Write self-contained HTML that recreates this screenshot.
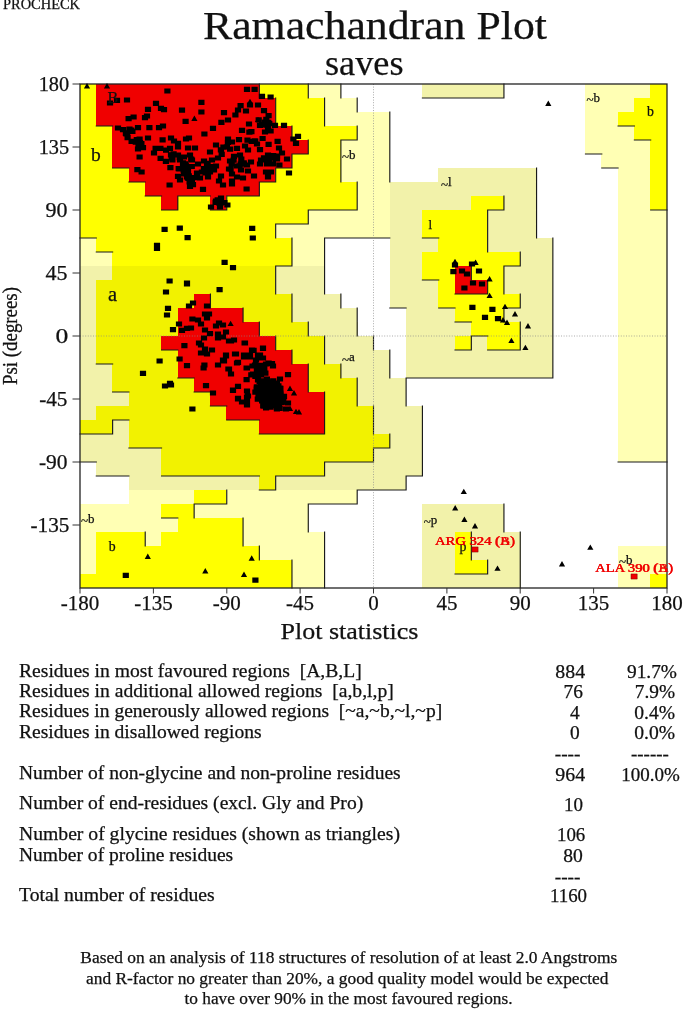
<!DOCTYPE html>
<html><head><meta charset="utf-8"><title>Ramachandran Plot</title><style>html,body{margin:0;padding:0;background:#fff}svg{display:block}</style></head><body>
<svg width="685" height="1010" viewBox="0 0 685 1010" font-family="Liberation Serif, serif" fill="#111">
<rect width="685" height="1010" fill="#fff"/>
<g shape-rendering="crispEdges"><rect x="79.70" y="83.70" width="16.91" height="14.60" fill="#ffff00"/>
<rect x="96.01" y="83.70" width="163.66" height="14.60" fill="#f00000"/>
<rect x="259.06" y="83.70" width="49.52" height="14.60" fill="#ffff00"/>
<rect x="307.98" y="83.70" width="33.21" height="14.60" fill="#ffffb4"/>
<rect x="422.12" y="83.70" width="82.13" height="14.60" fill="#f2f2aa"/>
<rect x="585.17" y="83.70" width="65.82" height="14.60" fill="#ffffb4"/>
<rect x="650.39" y="83.70" width="16.91" height="14.60" fill="#ffff00"/>
<rect x="79.70" y="97.70" width="16.91" height="14.60" fill="#ffff00"/>
<rect x="96.01" y="97.70" width="179.96" height="14.60" fill="#f00000"/>
<rect x="275.37" y="97.70" width="49.52" height="14.60" fill="#ffff00"/>
<rect x="324.28" y="97.70" width="33.21" height="14.60" fill="#ffffb4"/>
<rect x="585.17" y="97.70" width="49.52" height="14.60" fill="#ffffb4"/>
<rect x="634.09" y="97.70" width="33.21" height="14.60" fill="#ffff00"/>
<rect x="79.70" y="111.70" width="16.91" height="14.60" fill="#ffff00"/>
<rect x="96.01" y="111.70" width="179.96" height="14.60" fill="#f00000"/>
<rect x="275.37" y="111.70" width="49.52" height="14.60" fill="#ffff00"/>
<rect x="324.28" y="111.70" width="65.82" height="14.60" fill="#ffffb4"/>
<rect x="585.17" y="111.70" width="33.21" height="14.60" fill="#ffffb4"/>
<rect x="617.78" y="111.70" width="49.52" height="14.60" fill="#ffff00"/>
<rect x="79.70" y="125.70" width="33.21" height="14.60" fill="#ffff00"/>
<rect x="112.31" y="125.70" width="179.96" height="14.60" fill="#f00000"/>
<rect x="291.67" y="125.70" width="65.82" height="14.60" fill="#ffff00"/>
<rect x="356.89" y="125.70" width="33.21" height="14.60" fill="#ffffb4"/>
<rect x="585.17" y="125.70" width="49.52" height="14.60" fill="#ffffb4"/>
<rect x="634.09" y="125.70" width="33.21" height="14.60" fill="#ffff00"/>
<rect x="79.70" y="139.70" width="33.21" height="14.60" fill="#ffff00"/>
<rect x="112.31" y="139.70" width="196.27" height="14.60" fill="#f00000"/>
<rect x="307.98" y="139.70" width="33.21" height="14.60" fill="#ffff00"/>
<rect x="340.59" y="139.70" width="49.52" height="14.60" fill="#ffffb4"/>
<rect x="585.17" y="139.70" width="65.82" height="14.60" fill="#ffffb4"/>
<rect x="650.39" y="139.70" width="16.91" height="14.60" fill="#ffff00"/>
<rect x="79.70" y="153.70" width="33.21" height="14.60" fill="#ffff00"/>
<rect x="112.31" y="153.70" width="179.96" height="14.60" fill="#f00000"/>
<rect x="291.67" y="153.70" width="49.52" height="14.60" fill="#ffff00"/>
<rect x="340.59" y="153.70" width="49.52" height="14.60" fill="#ffffb4"/>
<rect x="601.48" y="153.70" width="49.52" height="14.60" fill="#ffffb4"/>
<rect x="650.39" y="153.70" width="16.91" height="14.60" fill="#ffff00"/>
<rect x="79.70" y="167.70" width="49.52" height="14.60" fill="#ffff00"/>
<rect x="128.62" y="167.70" width="147.35" height="14.60" fill="#f00000"/>
<rect x="275.37" y="167.70" width="65.82" height="14.60" fill="#ffff00"/>
<rect x="340.59" y="167.70" width="49.52" height="14.60" fill="#ffffb4"/>
<rect x="438.42" y="167.70" width="98.43" height="14.60" fill="#f2f2aa"/>
<rect x="617.78" y="167.70" width="33.21" height="14.60" fill="#ffffb4"/>
<rect x="650.39" y="167.70" width="16.91" height="14.60" fill="#ffff00"/>
<rect x="79.70" y="181.70" width="65.82" height="14.60" fill="#ffff00"/>
<rect x="144.92" y="181.70" width="114.74" height="14.60" fill="#f00000"/>
<rect x="259.06" y="181.70" width="98.43" height="14.60" fill="#ffff00"/>
<rect x="356.89" y="181.70" width="33.21" height="14.60" fill="#ffffb4"/>
<rect x="389.51" y="181.70" width="147.35" height="14.60" fill="#f2f2aa"/>
<rect x="617.78" y="181.70" width="33.21" height="14.60" fill="#ffffb4"/>
<rect x="650.39" y="181.70" width="16.91" height="14.60" fill="#ffff00"/>
<rect x="79.70" y="195.70" width="82.13" height="14.60" fill="#ffff00"/>
<rect x="161.23" y="195.70" width="16.91" height="14.60" fill="#f00000"/>
<rect x="177.53" y="195.70" width="33.21" height="14.60" fill="#ffff00"/>
<rect x="210.14" y="195.70" width="16.91" height="14.60" fill="#f00000"/>
<rect x="226.45" y="195.70" width="131.04" height="14.60" fill="#ffff00"/>
<rect x="356.89" y="195.70" width="33.21" height="14.60" fill="#ffffb4"/>
<rect x="389.51" y="195.70" width="82.13" height="14.60" fill="#f2f2aa"/>
<rect x="471.03" y="195.70" width="33.21" height="14.60" fill="#ffff00"/>
<rect x="503.64" y="195.70" width="33.21" height="14.60" fill="#f2f2aa"/>
<rect x="617.78" y="195.70" width="33.21" height="14.60" fill="#ffffb4"/>
<rect x="650.39" y="195.70" width="16.91" height="14.60" fill="#ffff00"/>
<rect x="79.70" y="209.70" width="228.88" height="14.60" fill="#ffff00"/>
<rect x="307.98" y="209.70" width="82.13" height="14.60" fill="#ffffb4"/>
<rect x="389.51" y="209.70" width="33.21" height="14.60" fill="#f2f2aa"/>
<rect x="422.12" y="209.70" width="65.82" height="14.60" fill="#ffff00"/>
<rect x="487.34" y="209.70" width="49.52" height="14.60" fill="#f2f2aa"/>
<rect x="617.78" y="209.70" width="49.52" height="14.60" fill="#ffffb4"/>
<rect x="79.70" y="223.70" width="196.27" height="14.60" fill="#ffff00"/>
<rect x="275.37" y="223.70" width="114.74" height="14.60" fill="#ffffb4"/>
<rect x="389.51" y="223.70" width="33.21" height="14.60" fill="#f2f2aa"/>
<rect x="422.12" y="223.70" width="65.82" height="14.60" fill="#ffff00"/>
<rect x="487.34" y="223.70" width="49.52" height="14.60" fill="#f2f2aa"/>
<rect x="617.78" y="223.70" width="49.52" height="14.60" fill="#ffffb4"/>
<rect x="79.70" y="237.70" width="16.91" height="14.60" fill="#ffffb4"/>
<rect x="96.01" y="237.70" width="196.27" height="14.60" fill="#ffff00"/>
<rect x="291.67" y="237.70" width="33.21" height="14.60" fill="#ffffb4"/>
<rect x="389.51" y="237.70" width="49.52" height="14.60" fill="#f2f2aa"/>
<rect x="438.42" y="237.70" width="49.52" height="14.60" fill="#ffff00"/>
<rect x="487.34" y="237.70" width="65.82" height="14.60" fill="#f2f2aa"/>
<rect x="617.78" y="237.70" width="49.52" height="14.60" fill="#ffffb4"/>
<rect x="79.70" y="251.70" width="33.21" height="14.60" fill="#ffffb4"/>
<rect x="112.31" y="251.70" width="179.96" height="14.60" fill="#ffff00"/>
<rect x="291.67" y="251.70" width="33.21" height="14.60" fill="#ffffb4"/>
<rect x="389.51" y="251.70" width="33.21" height="14.60" fill="#f2f2aa"/>
<rect x="422.12" y="251.70" width="98.43" height="14.60" fill="#ffff00"/>
<rect x="519.95" y="251.70" width="33.21" height="14.60" fill="#f2f2aa"/>
<rect x="617.78" y="251.70" width="49.52" height="14.60" fill="#ffffb4"/>
<rect x="79.70" y="265.70" width="33.21" height="14.60" fill="#f2f2aa"/>
<rect x="112.31" y="265.70" width="163.66" height="14.60" fill="#f2f200"/>
<rect x="275.37" y="265.70" width="49.52" height="14.60" fill="#f2f2aa"/>
<rect x="389.51" y="265.70" width="33.21" height="14.60" fill="#f2f2aa"/>
<rect x="422.12" y="265.70" width="33.21" height="14.60" fill="#ffff00"/>
<rect x="454.73" y="265.70" width="16.91" height="14.60" fill="#f00000"/>
<rect x="471.03" y="265.70" width="33.21" height="14.60" fill="#ffff00"/>
<rect x="503.64" y="265.70" width="49.52" height="14.60" fill="#f2f2aa"/>
<rect x="617.78" y="265.70" width="49.52" height="14.60" fill="#ffffb4"/>
<rect x="79.70" y="279.70" width="16.91" height="14.60" fill="#f2f2aa"/>
<rect x="96.01" y="279.70" width="179.96" height="14.60" fill="#f2f200"/>
<rect x="275.37" y="279.70" width="49.52" height="14.60" fill="#f2f2aa"/>
<rect x="389.51" y="279.70" width="49.52" height="14.60" fill="#f2f2aa"/>
<rect x="438.42" y="279.70" width="16.91" height="14.60" fill="#ffff00"/>
<rect x="454.73" y="279.70" width="33.21" height="14.60" fill="#f00000"/>
<rect x="487.34" y="279.70" width="16.91" height="14.60" fill="#ffff00"/>
<rect x="503.64" y="279.70" width="49.52" height="14.60" fill="#f2f2aa"/>
<rect x="617.78" y="279.70" width="49.52" height="14.60" fill="#ffffb4"/>
<rect x="79.70" y="293.70" width="16.91" height="14.60" fill="#f2f2aa"/>
<rect x="96.01" y="293.70" width="98.43" height="14.60" fill="#f2f200"/>
<rect x="193.84" y="293.70" width="16.91" height="14.60" fill="#f00000"/>
<rect x="210.14" y="293.70" width="82.13" height="14.60" fill="#f2f200"/>
<rect x="291.67" y="293.70" width="49.52" height="14.60" fill="#f2f2aa"/>
<rect x="389.51" y="293.70" width="49.52" height="14.60" fill="#f2f2aa"/>
<rect x="438.42" y="293.70" width="82.13" height="14.60" fill="#ffff00"/>
<rect x="519.95" y="293.70" width="33.21" height="14.60" fill="#f2f2aa"/>
<rect x="617.78" y="293.70" width="49.52" height="14.60" fill="#ffffb4"/>
<rect x="79.70" y="307.70" width="16.91" height="14.60" fill="#f2f2aa"/>
<rect x="96.01" y="307.70" width="82.13" height="14.60" fill="#f2f200"/>
<rect x="177.53" y="307.70" width="65.82" height="14.60" fill="#f00000"/>
<rect x="242.76" y="307.70" width="49.52" height="14.60" fill="#f2f200"/>
<rect x="291.67" y="307.70" width="65.82" height="14.60" fill="#f2f2aa"/>
<rect x="405.81" y="307.70" width="49.52" height="14.60" fill="#f2f2aa"/>
<rect x="454.73" y="307.70" width="49.52" height="14.60" fill="#ffff00"/>
<rect x="503.64" y="307.70" width="49.52" height="14.60" fill="#f2f2aa"/>
<rect x="617.78" y="307.70" width="49.52" height="14.60" fill="#ffffb4"/>
<rect x="79.70" y="321.70" width="16.91" height="14.60" fill="#f2f2aa"/>
<rect x="96.01" y="321.70" width="82.13" height="14.60" fill="#f2f200"/>
<rect x="177.53" y="321.70" width="82.13" height="14.60" fill="#f00000"/>
<rect x="259.06" y="321.70" width="49.52" height="14.60" fill="#f2f200"/>
<rect x="307.98" y="321.70" width="49.52" height="14.60" fill="#f2f2aa"/>
<rect x="405.81" y="321.70" width="65.82" height="14.60" fill="#f2f2aa"/>
<rect x="471.03" y="321.70" width="49.52" height="14.60" fill="#ffff00"/>
<rect x="519.95" y="321.70" width="33.21" height="14.60" fill="#f2f2aa"/>
<rect x="617.78" y="321.70" width="49.52" height="14.60" fill="#ffffb4"/>
<rect x="79.70" y="335.70" width="16.91" height="14.60" fill="#f2f2aa"/>
<rect x="96.01" y="335.70" width="65.82" height="14.60" fill="#f2f200"/>
<rect x="161.23" y="335.70" width="114.74" height="14.60" fill="#f00000"/>
<rect x="275.37" y="335.70" width="49.52" height="14.60" fill="#f2f200"/>
<rect x="324.28" y="335.70" width="49.52" height="14.60" fill="#f2f2aa"/>
<rect x="405.81" y="335.70" width="49.52" height="14.60" fill="#f2f2aa"/>
<rect x="454.73" y="335.70" width="16.91" height="14.60" fill="#ffff00"/>
<rect x="471.03" y="335.70" width="16.91" height="14.60" fill="#f2f2aa"/>
<rect x="487.34" y="335.70" width="33.21" height="14.60" fill="#ffff00"/>
<rect x="519.95" y="335.70" width="33.21" height="14.60" fill="#f2f2aa"/>
<rect x="617.78" y="335.70" width="49.52" height="14.60" fill="#ffffb4"/>
<rect x="79.70" y="349.70" width="16.91" height="14.60" fill="#f2f2aa"/>
<rect x="96.01" y="349.70" width="82.13" height="14.60" fill="#f2f200"/>
<rect x="177.53" y="349.70" width="114.74" height="14.60" fill="#f00000"/>
<rect x="291.67" y="349.70" width="33.21" height="14.60" fill="#f2f200"/>
<rect x="324.28" y="349.70" width="65.82" height="14.60" fill="#f2f2aa"/>
<rect x="405.81" y="349.70" width="147.35" height="14.60" fill="#f2f2aa"/>
<rect x="617.78" y="349.70" width="49.52" height="14.60" fill="#ffffb4"/>
<rect x="79.70" y="363.70" width="33.21" height="14.60" fill="#f2f2aa"/>
<rect x="112.31" y="363.70" width="65.82" height="14.60" fill="#f2f200"/>
<rect x="177.53" y="363.70" width="131.04" height="14.60" fill="#f00000"/>
<rect x="307.98" y="363.70" width="33.21" height="14.60" fill="#f2f200"/>
<rect x="340.59" y="363.70" width="49.52" height="14.60" fill="#f2f2aa"/>
<rect x="405.81" y="363.70" width="147.35" height="14.60" fill="#f2f2aa"/>
<rect x="617.78" y="363.70" width="49.52" height="14.60" fill="#ffffb4"/>
<rect x="79.70" y="377.70" width="33.21" height="14.60" fill="#f2f2aa"/>
<rect x="112.31" y="377.70" width="82.13" height="14.60" fill="#f2f200"/>
<rect x="193.84" y="377.70" width="114.74" height="14.60" fill="#f00000"/>
<rect x="307.98" y="377.70" width="49.52" height="14.60" fill="#f2f200"/>
<rect x="356.89" y="377.70" width="49.52" height="14.60" fill="#f2f2aa"/>
<rect x="617.78" y="377.70" width="49.52" height="14.60" fill="#ffffb4"/>
<rect x="79.70" y="391.70" width="49.52" height="14.60" fill="#f2f2aa"/>
<rect x="128.62" y="391.70" width="82.13" height="14.60" fill="#f2f200"/>
<rect x="210.14" y="391.70" width="114.74" height="14.60" fill="#f00000"/>
<rect x="324.28" y="391.70" width="33.21" height="14.60" fill="#f2f200"/>
<rect x="356.89" y="391.70" width="49.52" height="14.60" fill="#f2f2aa"/>
<rect x="617.78" y="391.70" width="49.52" height="14.60" fill="#ffffb4"/>
<rect x="79.70" y="405.70" width="16.91" height="14.60" fill="#f2f2aa"/>
<rect x="96.01" y="405.70" width="131.04" height="14.60" fill="#f2f200"/>
<rect x="226.45" y="405.70" width="98.43" height="14.60" fill="#f00000"/>
<rect x="324.28" y="405.70" width="49.52" height="14.60" fill="#f2f200"/>
<rect x="373.20" y="405.70" width="49.52" height="14.60" fill="#f2f2aa"/>
<rect x="617.78" y="405.70" width="49.52" height="14.60" fill="#ffffb4"/>
<rect x="79.70" y="419.70" width="33.21" height="14.60" fill="#f2f200"/>
<rect x="112.31" y="419.70" width="16.91" height="14.60" fill="#f2f2aa"/>
<rect x="128.62" y="419.70" width="131.04" height="14.60" fill="#f2f200"/>
<rect x="259.06" y="419.70" width="65.82" height="14.60" fill="#f00000"/>
<rect x="324.28" y="419.70" width="49.52" height="14.60" fill="#f2f200"/>
<rect x="373.20" y="419.70" width="49.52" height="14.60" fill="#f2f2aa"/>
<rect x="617.78" y="419.70" width="49.52" height="14.60" fill="#ffffb4"/>
<rect x="79.70" y="433.70" width="49.52" height="14.60" fill="#f2f2aa"/>
<rect x="128.62" y="433.70" width="261.49" height="14.60" fill="#f2f200"/>
<rect x="389.51" y="433.70" width="33.21" height="14.60" fill="#f2f2aa"/>
<rect x="617.78" y="433.70" width="49.52" height="14.60" fill="#ffffb4"/>
<rect x="79.70" y="447.70" width="82.13" height="14.60" fill="#f2f2aa"/>
<rect x="161.23" y="447.70" width="212.57" height="14.60" fill="#f2f200"/>
<rect x="373.20" y="447.70" width="49.52" height="14.60" fill="#f2f2aa"/>
<rect x="617.78" y="447.70" width="49.52" height="14.60" fill="#ffffb4"/>
<rect x="96.01" y="461.70" width="65.82" height="14.60" fill="#f2f2aa"/>
<rect x="161.23" y="461.70" width="163.66" height="14.60" fill="#f2f200"/>
<rect x="324.28" y="461.70" width="98.43" height="14.60" fill="#f2f2aa"/>
<rect x="128.62" y="475.70" width="131.04" height="14.60" fill="#f2f2aa"/>
<rect x="259.06" y="475.70" width="16.91" height="14.60" fill="#f2f200"/>
<rect x="275.37" y="475.70" width="131.04" height="14.60" fill="#f2f2aa"/>
<rect x="128.62" y="489.70" width="65.82" height="14.60" fill="#ffffb4"/>
<rect x="193.84" y="489.70" width="33.21" height="14.60" fill="#ffff00"/>
<rect x="226.45" y="489.70" width="131.04" height="14.60" fill="#ffffb4"/>
<rect x="79.70" y="503.70" width="82.13" height="14.60" fill="#ffffb4"/>
<rect x="161.23" y="503.70" width="33.21" height="14.60" fill="#ffff00"/>
<rect x="193.84" y="503.70" width="114.74" height="14.60" fill="#ffffb4"/>
<rect x="422.12" y="503.70" width="82.13" height="14.60" fill="#f2f2aa"/>
<rect x="79.70" y="517.70" width="98.43" height="14.60" fill="#ffffb4"/>
<rect x="177.53" y="517.70" width="65.82" height="14.60" fill="#ffff00"/>
<rect x="242.76" y="517.70" width="65.82" height="14.60" fill="#ffffb4"/>
<rect x="422.12" y="517.70" width="82.13" height="14.60" fill="#f2f2aa"/>
<rect x="79.70" y="531.70" width="16.91" height="14.60" fill="#ffffb4"/>
<rect x="96.01" y="531.70" width="49.52" height="14.60" fill="#ffff00"/>
<rect x="144.92" y="531.70" width="16.91" height="14.60" fill="#ffffb4"/>
<rect x="161.23" y="531.70" width="82.13" height="14.60" fill="#ffff00"/>
<rect x="242.76" y="531.70" width="82.13" height="14.60" fill="#ffffb4"/>
<rect x="422.12" y="531.70" width="33.21" height="14.60" fill="#f2f2aa"/>
<rect x="454.73" y="531.70" width="16.91" height="14.60" fill="#ffff00"/>
<rect x="471.03" y="531.70" width="49.52" height="14.60" fill="#f2f2aa"/>
<rect x="79.70" y="545.70" width="16.91" height="14.60" fill="#ffffb4"/>
<rect x="96.01" y="545.70" width="163.66" height="14.60" fill="#ffff00"/>
<rect x="259.06" y="545.70" width="65.82" height="14.60" fill="#ffffb4"/>
<rect x="422.12" y="545.70" width="33.21" height="14.60" fill="#f2f2aa"/>
<rect x="454.73" y="545.70" width="16.91" height="14.60" fill="#ffff00"/>
<rect x="471.03" y="545.70" width="49.52" height="14.60" fill="#f2f2aa"/>
<rect x="617.78" y="545.70" width="49.52" height="14.60" fill="#ffffb4"/>
<rect x="79.70" y="559.70" width="16.91" height="14.60" fill="#ffffb4"/>
<rect x="96.01" y="559.70" width="196.27" height="14.60" fill="#ffff00"/>
<rect x="291.67" y="559.70" width="33.21" height="14.60" fill="#ffffb4"/>
<rect x="422.12" y="559.70" width="33.21" height="14.60" fill="#f2f2aa"/>
<rect x="454.73" y="559.70" width="33.21" height="14.60" fill="#ffff00"/>
<rect x="487.34" y="559.70" width="33.21" height="14.60" fill="#f2f2aa"/>
<rect x="617.78" y="559.70" width="49.52" height="14.60" fill="#ffffb4"/>
<rect x="79.70" y="573.70" width="212.57" height="14.60" fill="#ffff00"/>
<rect x="291.67" y="573.70" width="33.21" height="14.60" fill="#ffffb4"/>
<rect x="422.12" y="573.70" width="98.43" height="14.60" fill="#f2f2aa"/>
<rect x="617.78" y="573.70" width="33.21" height="14.60" fill="#ffffb4"/>
<rect x="650.39" y="573.70" width="16.91" height="14.60" fill="#ffff00"/></g>
<path d="M259.36 84.00L259.36 98.00M308.28 84.00L308.28 98.00M340.89 84.00L340.89 98.00M422.42 98.00L438.72 98.00M438.72 98.00L455.03 98.00M455.03 98.00L471.33 98.00M471.33 98.00L487.64 98.00M503.94 84.00L503.94 98.00M487.64 98.00L503.94 98.00M275.67 98.00L275.67 112.00M324.58 98.00L324.58 112.00M357.19 98.00L357.19 112.00M96.31 126.00L112.61 126.00M275.67 112.00L275.67 126.00M324.58 112.00L324.58 126.00M389.81 112.00L389.81 126.00M618.08 126.00L634.39 126.00M291.97 126.00L291.97 140.00M357.19 126.00L357.19 140.00M340.89 140.00L357.19 140.00M389.81 126.00L389.81 140.00M634.39 140.00L650.69 140.00M308.28 140.00L308.28 154.00M291.97 154.00L308.28 154.00M340.89 140.00L340.89 154.00M389.81 140.00L389.81 154.00M585.47 154.00L601.78 154.00M112.61 168.00L128.92 168.00M291.97 154.00L291.97 168.00M275.67 168.00L291.97 168.00M340.89 154.00L340.89 168.00M389.81 154.00L389.81 168.00M601.78 168.00L618.08 168.00M128.92 182.00L145.22 182.00M275.67 168.00L275.67 182.00M259.36 182.00L275.67 182.00M340.89 168.00L340.89 182.00M389.81 168.00L389.81 182.00M536.56 168.00L536.56 182.00M145.22 196.00L161.53 196.00M177.83 196.00L194.14 196.00M194.14 196.00L210.44 196.00M226.75 196.00L243.06 196.00M259.36 182.00L259.36 196.00M243.06 196.00L259.36 196.00M357.19 182.00L357.19 196.00M536.56 182.00L536.56 196.00M177.83 196.00L177.83 210.00M161.53 210.00L177.83 210.00M226.75 196.00L226.75 210.00M210.44 210.00L226.75 210.00M308.28 210.00L324.58 210.00M324.58 210.00L340.89 210.00M357.19 196.00L357.19 210.00M340.89 210.00L357.19 210.00M503.94 196.00L503.94 210.00M487.64 210.00L503.94 210.00M536.56 196.00L536.56 210.00M650.69 210.00L667.00 210.00M275.67 224.00L291.97 224.00M308.28 210.00L308.28 224.00M291.97 224.00L308.28 224.00M487.64 210.00L487.64 224.00M536.56 210.00L536.56 224.00M80.00 238.00L96.31 238.00M275.67 224.00L275.67 238.00M324.58 238.00L340.89 238.00M340.89 238.00L357.19 238.00M357.19 238.00L373.50 238.00M373.50 238.00L389.81 238.00M422.42 238.00L438.72 238.00M487.64 224.00L487.64 238.00M536.56 224.00L536.56 238.00M96.31 252.00L112.61 252.00M291.97 238.00L291.97 252.00M324.58 238.00L324.58 252.00M487.64 238.00L487.64 252.00M552.86 238.00L552.86 252.00M291.97 252.00L291.97 266.00M275.67 266.00L291.97 266.00M324.58 252.00L324.58 266.00M520.25 252.00L520.25 266.00M503.94 266.00L520.25 266.00M552.86 252.00L552.86 266.00M275.67 266.00L275.67 280.00M324.58 266.00L324.58 280.00M422.42 280.00L438.72 280.00M471.33 266.00L471.33 280.00M503.94 266.00L503.94 280.00M552.86 266.00L552.86 280.00M275.67 280.00L275.67 294.00M324.58 280.00L324.58 294.00M455.03 294.00L471.33 294.00M487.64 280.00L487.64 294.00M471.33 294.00L487.64 294.00M503.94 280.00L503.94 294.00M552.86 280.00L552.86 294.00M210.44 294.00L210.44 308.00M291.97 294.00L291.97 308.00M340.89 294.00L340.89 308.00M389.81 308.00L406.11 308.00M438.72 308.00L455.03 308.00M520.25 294.00L520.25 308.00M503.94 308.00L520.25 308.00M552.86 294.00L552.86 308.00M243.06 308.00L243.06 322.00M291.97 308.00L291.97 322.00M357.19 308.00L357.19 322.00M455.03 322.00L471.33 322.00M503.94 308.00L503.94 322.00M552.86 308.00L552.86 322.00M259.36 322.00L259.36 336.00M308.28 322.00L308.28 336.00M357.19 322.00L357.19 336.00M471.33 336.00L487.64 336.00M520.25 322.00L520.25 336.00M552.86 322.00L552.86 336.00M161.53 350.00L177.83 350.00M275.67 336.00L275.67 350.00M324.58 336.00L324.58 350.00M373.50 336.00L373.50 350.00M471.33 336.00L471.33 350.00M455.03 350.00L471.33 350.00M487.64 350.00L503.94 350.00M520.25 336.00L520.25 350.00M503.94 350.00L520.25 350.00M552.86 336.00L552.86 350.00M96.31 364.00L112.61 364.00M291.97 350.00L291.97 364.00M324.58 350.00L324.58 364.00M389.81 350.00L389.81 364.00M552.86 350.00L552.86 364.00M177.83 378.00L194.14 378.00M308.28 364.00L308.28 378.00M340.89 364.00L340.89 378.00M389.81 364.00L389.81 378.00M406.11 378.00L422.42 378.00M422.42 378.00L438.72 378.00M438.72 378.00L455.03 378.00M455.03 378.00L471.33 378.00M471.33 378.00L487.64 378.00M487.64 378.00L503.94 378.00M503.94 378.00L520.25 378.00M520.25 378.00L536.56 378.00M552.86 364.00L552.86 378.00M536.56 378.00L552.86 378.00M112.61 392.00L128.92 392.00M194.14 392.00L210.44 392.00M308.28 378.00L308.28 392.00M357.19 378.00L357.19 392.00M406.11 378.00L406.11 392.00M210.44 406.00L226.75 406.00M324.58 392.00L324.58 406.00M357.19 392.00L357.19 406.00M406.11 392.00L406.11 406.00M112.61 420.00L128.92 420.00M226.75 420.00L243.06 420.00M243.06 420.00L259.36 420.00M324.58 406.00L324.58 420.00M373.50 406.00L373.50 420.00M422.42 406.00L422.42 420.00M80.00 434.00L96.31 434.00M112.61 420.00L112.61 434.00M96.31 434.00L112.61 434.00M259.36 434.00L275.67 434.00M275.67 434.00L291.97 434.00M291.97 434.00L308.28 434.00M324.58 420.00L324.58 434.00M308.28 434.00L324.58 434.00M373.50 420.00L373.50 434.00M422.42 420.00L422.42 434.00M128.92 448.00L145.22 448.00M145.22 448.00L161.53 448.00M389.81 434.00L389.81 448.00M373.50 448.00L389.81 448.00M422.42 434.00L422.42 448.00M80.00 462.00L96.31 462.00M324.58 462.00L340.89 462.00M340.89 462.00L357.19 462.00M373.50 448.00L373.50 462.00M357.19 462.00L373.50 462.00M422.42 448.00L422.42 462.00M618.08 462.00L634.39 462.00M634.39 462.00L650.69 462.00M650.69 462.00L667.00 462.00M96.31 476.00L112.61 476.00M112.61 476.00L128.92 476.00M161.53 476.00L177.83 476.00M177.83 476.00L194.14 476.00M194.14 476.00L210.44 476.00M210.44 476.00L226.75 476.00M226.75 476.00L243.06 476.00M243.06 476.00L259.36 476.00M275.67 476.00L291.97 476.00M291.97 476.00L308.28 476.00M324.58 462.00L324.58 476.00M308.28 476.00L324.58 476.00M422.42 462.00L422.42 476.00M406.11 476.00L422.42 476.00M275.67 476.00L275.67 490.00M259.36 490.00L275.67 490.00M357.19 490.00L373.50 490.00M373.50 490.00L389.81 490.00M406.11 476.00L406.11 490.00M389.81 490.00L406.11 490.00M194.14 504.00L210.44 504.00M226.75 490.00L226.75 504.00M210.44 504.00L226.75 504.00M308.28 504.00L324.58 504.00M324.58 504.00L340.89 504.00M357.19 490.00L357.19 504.00M340.89 504.00L357.19 504.00M161.53 518.00L177.83 518.00M194.14 504.00L194.14 518.00M308.28 504.00L308.28 518.00M503.94 504.00L503.94 518.00M243.06 518.00L243.06 532.00M308.28 518.00L308.28 532.00M503.94 518.00L503.94 532.00M145.22 532.00L145.22 546.00M243.06 532.00L243.06 546.00M324.58 532.00L324.58 546.00M471.33 532.00L471.33 546.00M520.25 532.00L520.25 546.00M259.36 546.00L259.36 560.00M324.58 546.00L324.58 560.00M471.33 546.00L471.33 560.00M520.25 546.00L520.25 560.00M291.97 560.00L291.97 574.00M324.58 560.00L324.58 574.00M455.03 574.00L471.33 574.00M487.64 560.00L487.64 574.00M471.33 574.00L487.64 574.00M520.25 560.00L520.25 574.00M291.97 574.00L291.97 588.00M324.58 574.00L324.58 588.00M520.25 574.00L520.25 588.00" stroke="#1a1a1a" stroke-width="1.15" fill="none" stroke-linecap="square"/>
<path d="M80.0 336.0H667.0M373.5 84.0V588.0" stroke="#888" stroke-width="0.7" stroke-dasharray="1 1.6" fill="none"/>
<rect x="80.0" y="84.0" width="587.0" height="504.0" fill="none" stroke="#222" stroke-width="1.3"/>
<path d="M72.5 84.0L80.0 84.0M72.5 147.0L80.0 147.0M72.5 210.0L80.0 210.0M72.5 273.0L80.0 273.0M72.5 336.0L80.0 336.0M72.5 399.0L80.0 399.0M72.5 462.0L80.0 462.0M72.5 525.0L80.0 525.0M80.0 588.0L80.0 593.5M153.4 588.0L153.4 593.5M226.8 588.0L226.8 593.5M300.1 588.0L300.1 593.5M373.5 588.0L373.5 593.5M446.9 588.0L446.9 593.5M520.2 588.0L520.2 593.5M593.6 588.0L593.6 593.5M667.0 588.0L667.0 593.5" stroke="#333" stroke-width="1" fill="none"/>
<path d="M164.3 88.4h6.2v5.2h-6.2zM113.9 97.8h6.2v5.2h-6.2zM106.9 100.4h6.2v5.2h-6.2zM123.9 97.4h6.2v5.2h-6.2zM152.9 100.8h6.2v5.2h-6.2zM157.9 105.8h6.2v5.2h-6.2zM160.9 107.0h6.2v5.2h-6.2zM198.3 99.8h6.2v5.2h-6.2zM144.9 106.8h6.2v5.2h-6.2zM178.9 107.6h6.2v5.2h-6.2zM198.3 109.4h6.2v5.2h-6.2zM143.9 113.4h6.2v5.2h-6.2zM141.9 115.0h6.2v5.2h-6.2zM125.5 116.0h6.2v5.2h-6.2zM130.5 114.4h6.2v5.2h-6.2zM182.5 118.8h6.2v5.2h-6.2zM114.9 125.4h6.2v5.2h-6.2zM119.9 127.0h6.2v5.2h-6.2zM134.9 125.0h6.2v5.2h-6.2zM129.3 128.8h6.2v5.2h-6.2zM146.3 125.0h6.2v5.2h-6.2zM155.9 125.0h6.2v5.2h-6.2zM159.9 123.4h6.2v5.2h-6.2zM123.3 131.4h6.2v5.2h-6.2zM124.5 135.0h6.2v5.2h-6.2zM136.5 136.4h6.2v5.2h-6.2zM144.9 135.4h6.2v5.2h-6.2zM128.5 138.8h6.2v5.2h-6.2zM136.9 140.8h6.2v5.2h-6.2zM167.9 135.4h6.2v5.2h-6.2zM170.9 138.4h6.2v5.2h-6.2zM174.9 140.8h6.2v5.2h-6.2zM182.9 136.4h6.2v5.2h-6.2zM185.9 135.4h6.2v5.2h-6.2zM201.3 131.4h6.2v5.2h-6.2zM209.9 125.8h6.2v5.2h-6.2zM139.9 145.0h6.2v5.2h-6.2zM134.9 146.4h6.2v5.2h-6.2zM152.5 145.8h6.2v5.2h-6.2zM157.3 145.8h6.2v5.2h-6.2zM166.9 145.8h6.2v5.2h-6.2zM174.9 144.4h6.2v5.2h-6.2zM184.9 145.4h6.2v5.2h-6.2zM191.9 145.4h6.2v5.2h-6.2zM150.9 150.4h6.2v5.2h-6.2zM136.5 154.4h6.2v5.2h-6.2zM157.5 155.8h6.2v5.2h-6.2zM169.3 157.4h6.2v5.2h-6.2zM174.9 152.4h6.2v5.2h-6.2zM176.9 157.4h6.2v5.2h-6.2zM180.9 154.4h6.2v5.2h-6.2zM186.9 152.4h6.2v5.2h-6.2zM188.9 157.4h6.2v5.2h-6.2zM194.9 161.4h6.2v5.2h-6.2zM200.9 158.4h6.2v5.2h-6.2zM208.9 157.4h6.2v5.2h-6.2zM206.9 149.4h6.2v5.2h-6.2zM212.9 142.4h6.2v5.2h-6.2zM134.3 167.0h6.2v5.2h-6.2zM138.5 169.4h6.2v5.2h-6.2zM167.3 165.0h6.2v5.2h-6.2zM176.3 166.4h6.2v5.2h-6.2zM182.9 163.4h6.2v5.2h-6.2zM184.9 168.4h6.2v5.2h-6.2zM180.9 171.4h6.2v5.2h-6.2zM174.9 173.8h6.2v5.2h-6.2zM193.9 170.4h6.2v5.2h-6.2zM196.9 175.4h6.2v5.2h-6.2zM188.9 175.4h6.2v5.2h-6.2zM203.9 165.4h6.2v5.2h-6.2zM206.9 169.4h6.2v5.2h-6.2zM204.9 174.4h6.2v5.2h-6.2zM210.9 167.4h6.2v5.2h-6.2zM212.9 163.4h6.2v5.2h-6.2zM186.5 179.4h6.2v5.2h-6.2zM176.9 177.4h6.2v5.2h-6.2zM243.9 86.8h6.2v5.2h-6.2zM251.5 86.8h6.2v5.2h-6.2zM258.9 93.8h6.2v5.2h-6.2zM267.5 94.4h6.2v5.2h-6.2zM246.9 102.4h6.2v5.2h-6.2zM237.5 103.0h6.2v5.2h-6.2zM254.9 102.4h6.2v5.2h-6.2zM234.9 107.4h6.2v5.2h-6.2zM220.9 110.0h6.2v5.2h-6.2zM242.9 108.4h6.2v5.2h-6.2zM232.3 112.4h6.2v5.2h-6.2zM260.9 108.0h6.2v5.2h-6.2zM265.5 113.0h6.2v5.2h-6.2zM224.9 117.4h6.2v5.2h-6.2zM218.3 119.8h6.2v5.2h-6.2zM245.9 121.4h6.2v5.2h-6.2zM256.9 122.8h6.2v5.2h-6.2zM261.9 119.4h6.2v5.2h-6.2zM264.9 124.4h6.2v5.2h-6.2zM271.9 122.8h6.2v5.2h-6.2zM280.9 122.8h6.2v5.2h-6.2zM238.9 127.8h6.2v5.2h-6.2zM248.3 129.0h6.2v5.2h-6.2zM261.9 129.4h6.2v5.2h-6.2zM267.5 128.4h6.2v5.2h-6.2zM294.9 133.8h6.2v5.2h-6.2zM290.3 136.4h6.2v5.2h-6.2zM292.9 140.8h6.2v5.2h-6.2zM224.9 136.4h6.2v5.2h-6.2zM228.9 139.4h6.2v5.2h-6.2zM235.9 137.0h6.2v5.2h-6.2zM251.9 138.4h6.2v5.2h-6.2zM253.9 141.4h6.2v5.2h-6.2zM265.5 141.8h6.2v5.2h-6.2zM274.5 138.8h6.2v5.2h-6.2zM241.9 143.4h6.2v5.2h-6.2zM233.9 145.8h6.2v5.2h-6.2zM244.9 147.4h6.2v5.2h-6.2zM256.9 147.0h6.2v5.2h-6.2zM275.9 145.4h6.2v5.2h-6.2zM278.9 150.4h6.2v5.2h-6.2zM230.9 153.8h6.2v5.2h-6.2zM236.9 152.4h6.2v5.2h-6.2zM226.9 158.4h6.2v5.2h-6.2zM217.9 147.4h6.2v5.2h-6.2zM214.9 155.4h6.2v5.2h-6.2zM247.9 159.4h6.2v5.2h-6.2zM257.9 157.4h6.2v5.2h-6.2zM264.9 152.4h6.2v5.2h-6.2zM268.9 154.4h6.2v5.2h-6.2zM273.9 156.4h6.2v5.2h-6.2zM283.9 156.4h6.2v5.2h-6.2zM263.9 161.4h6.2v5.2h-6.2zM256.9 161.4h6.2v5.2h-6.2zM269.9 161.4h6.2v5.2h-6.2zM276.3 162.4h6.2v5.2h-6.2zM240.9 161.4h6.2v5.2h-6.2zM233.9 163.4h6.2v5.2h-6.2zM225.9 166.4h6.2v5.2h-6.2zM237.9 167.4h6.2v5.2h-6.2zM244.9 168.4h6.2v5.2h-6.2zM228.9 171.4h6.2v5.2h-6.2zM233.9 174.4h6.2v5.2h-6.2zM262.9 169.4h6.2v5.2h-6.2zM267.9 169.4h6.2v5.2h-6.2zM264.9 174.4h6.2v5.2h-6.2zM250.9 173.4h6.2v5.2h-6.2zM285.9 170.4h6.2v5.2h-6.2zM217.9 173.4h6.2v5.2h-6.2zM239.9 175.4h6.2v5.2h-6.2zM228.9 178.4h6.2v5.2h-6.2zM215.9 178.4h6.2v5.2h-6.2zM243.9 162.4h6.2v5.2h-6.2zM166.5 182.4h6.2v5.2h-6.2zM186.9 183.8h6.2v5.2h-6.2zM199.9 186.8h6.2v5.2h-6.2zM207.9 204.4h6.2v5.2h-6.2zM212.9 198.4h6.2v5.2h-6.2zM161.5 226.8h6.2v5.2h-6.2zM176.7 225.6h6.2v5.2h-6.2zM184.5 235.0h6.2v5.2h-6.2zM153.9 242.8h6.2v5.2h-6.2zM153.9 245.8h6.2v5.2h-6.2zM166.5 278.4h6.2v5.2h-6.2zM183.9 280.4h6.2v5.2h-6.2zM219.9 182.4h6.2v5.2h-6.2zM228.9 181.4h6.2v5.2h-6.2zM243.5 186.4h6.2v5.2h-6.2zM217.9 195.4h6.2v5.2h-6.2zM215.9 200.4h6.2v5.2h-6.2zM224.3 202.4h6.2v5.2h-6.2zM249.1 225.8h6.2v5.2h-6.2zM249.7 235.4h6.2v5.2h-6.2zM221.5 259.8h6.2v5.2h-6.2zM229.9 265.0h6.2v5.2h-6.2zM183.9 281.4h6.2v5.2h-6.2zM162.9 289.4h6.2v5.2h-6.2zM216.5 287.0h6.2v5.2h-6.2zM164.9 305.8h6.2v5.2h-6.2zM163.9 312.4h6.2v5.2h-6.2zM189.9 300.4h6.2v5.2h-6.2zM185.9 303.4h6.2v5.2h-6.2zM203.9 303.4h6.2v5.2h-6.2zM201.9 311.4h6.2v5.2h-6.2zM205.9 311.4h6.2v5.2h-6.2zM203.9 315.4h6.2v5.2h-6.2zM189.3 316.4h6.2v5.2h-6.2zM194.9 317.4h6.2v5.2h-6.2zM175.9 321.4h6.2v5.2h-6.2zM197.9 321.4h6.2v5.2h-6.2zM187.9 325.4h6.2v5.2h-6.2zM183.9 325.8h6.2v5.2h-6.2zM178.9 327.8h6.2v5.2h-6.2zM169.9 327.0h6.2v5.2h-6.2zM212.9 323.4h6.2v5.2h-6.2zM215.9 320.4h6.2v5.2h-6.2zM219.9 322.4h6.2v5.2h-6.2zM201.9 327.4h6.2v5.2h-6.2zM206.9 331.0h6.2v5.2h-6.2zM214.9 331.4h6.2v5.2h-6.2zM222.9 329.4h6.2v5.2h-6.2zM214.9 335.4h6.2v5.2h-6.2zM200.9 335.4h6.2v5.2h-6.2zM195.9 340.4h6.2v5.2h-6.2zM197.9 342.4h6.2v5.2h-6.2zM181.3 343.0h6.2v5.2h-6.2zM227.9 338.4h6.2v5.2h-6.2zM230.9 337.4h6.2v5.2h-6.2zM241.5 340.4h6.2v5.2h-6.2zM201.9 346.4h6.2v5.2h-6.2zM208.9 347.4h6.2v5.2h-6.2zM197.9 350.4h6.2v5.2h-6.2zM203.9 351.4h6.2v5.2h-6.2zM248.9 347.4h6.2v5.2h-6.2zM259.9 345.8h6.2v5.2h-6.2zM231.9 351.4h6.2v5.2h-6.2zM222.9 353.4h6.2v5.2h-6.2zM240.9 354.4h6.2v5.2h-6.2zM246.9 354.4h6.2v5.2h-6.2zM254.9 352.4h6.2v5.2h-6.2zM259.9 355.4h6.2v5.2h-6.2zM176.5 356.4h6.2v5.2h-6.2zM156.5 358.4h6.2v5.2h-6.2zM220.9 358.4h6.2v5.2h-6.2zM214.9 362.4h6.2v5.2h-6.2zM234.9 359.8h6.2v5.2h-6.2zM183.9 363.0h6.2v5.2h-6.2zM201.3 362.4h6.2v5.2h-6.2zM200.5 365.4h6.2v5.2h-6.2zM225.3 366.4h6.2v5.2h-6.2zM243.5 365.4h6.2v5.2h-6.2zM251.9 362.4h6.2v5.2h-6.2zM258.9 365.4h6.2v5.2h-6.2zM227.9 371.4h6.2v5.2h-6.2zM249.9 371.4h6.2v5.2h-6.2zM257.9 372.4h6.2v5.2h-6.2zM139.9 370.8h6.2v5.2h-6.2zM166.9 380.8h6.2v5.2h-6.2zM254.9 377.4h6.2v5.2h-6.2zM260.9 369.4h6.2v5.2h-6.2zM262.9 361.4h6.2v5.2h-6.2zM225.9 338.4h6.2v5.2h-6.2zM241.9 340.4h6.2v5.2h-6.2zM219.9 334.4h6.2v5.2h-6.2zM248.9 347.4h6.2v5.2h-6.2zM259.9 345.4h6.2v5.2h-6.2zM232.9 351.4h6.2v5.2h-6.2zM222.9 352.4h6.2v5.2h-6.2zM219.9 357.4h6.2v5.2h-6.2zM214.9 362.4h6.2v5.2h-6.2zM240.9 352.4h6.2v5.2h-6.2zM246.9 352.4h6.2v5.2h-6.2zM256.9 352.4h6.2v5.2h-6.2zM233.9 360.4h6.2v5.2h-6.2zM252.9 357.4h6.2v5.2h-6.2zM256.9 355.4h6.2v5.2h-6.2zM265.5 360.4h6.2v5.2h-6.2zM269.9 363.4h6.2v5.2h-6.2zM225.9 366.4h6.2v5.2h-6.2zM243.9 365.4h6.2v5.2h-6.2zM251.9 363.4h6.2v5.2h-6.2zM258.9 366.4h6.2v5.2h-6.2zM227.9 371.4h6.2v5.2h-6.2zM249.9 371.4h6.2v5.2h-6.2zM284.9 372.0h6.2v5.2h-6.2zM276.9 376.4h6.2v5.2h-6.2zM234.9 383.8h6.2v5.2h-6.2zM229.9 387.8h6.2v5.2h-6.2zM243.9 388.4h6.2v5.2h-6.2zM234.9 396.4h6.2v5.2h-6.2zM243.9 394.4h6.2v5.2h-6.2zM238.9 399.4h6.2v5.2h-6.2zM243.9 402.4h6.2v5.2h-6.2zM284.9 400.4h6.2v5.2h-6.2zM282.9 406.4h6.2v5.2h-6.2zM161.9 383.4h6.2v5.2h-6.2zM167.9 382.4h6.2v5.2h-6.2zM202.9 383.0h6.2v5.2h-6.2zM209.9 390.4h6.2v5.2h-6.2zM189.3 406.4h6.2v5.2h-6.2zM229.9 387.4h6.2v5.2h-6.2zM234.9 383.8h6.2v5.2h-6.2zM243.9 388.4h6.2v5.2h-6.2zM234.9 395.8h6.2v5.2h-6.2zM238.9 399.4h6.2v5.2h-6.2zM244.9 393.4h6.2v5.2h-6.2zM243.9 398.4h6.2v5.2h-6.2zM451.9 262.4h6.2v5.2h-6.2zM450.3 269.0h6.2v5.2h-6.2zM468.9 261.4h6.2v5.2h-6.2zM458.9 268.4h6.2v5.2h-6.2zM463.9 271.4h6.2v5.2h-6.2zM475.9 268.4h6.2v5.2h-6.2zM469.9 280.4h6.2v5.2h-6.2zM478.9 281.4h6.2v5.2h-6.2zM461.3 285.4h6.2v5.2h-6.2zM469.3 304.8h6.2v5.2h-6.2zM489.3 306.8h6.2v5.2h-6.2zM481.9 314.8h6.2v5.2h-6.2zM494.9 316.0h6.2v5.2h-6.2zM122.7 572.8h6.2v5.2h-6.2zM252.3 577.6h6.2v5.2h-6.2zM265.2 395.8h6.2v5.2h-6.2zM264.7 388.9h6.2v5.2h-6.2zM259.5 388.7h6.2v5.2h-6.2zM275.5 397.1h6.2v5.2h-6.2zM274.8 395.5h6.2v5.2h-6.2zM269.8 394.0h6.2v5.2h-6.2zM254.7 396.5h6.2v5.2h-6.2zM270.9 396.8h6.2v5.2h-6.2zM259.6 386.7h6.2v5.2h-6.2zM269.0 392.0h6.2v5.2h-6.2zM270.1 387.4h6.2v5.2h-6.2zM269.4 395.6h6.2v5.2h-6.2zM263.0 405.2h6.2v5.2h-6.2zM271.9 402.7h6.2v5.2h-6.2zM261.4 384.8h6.2v5.2h-6.2zM264.0 390.5h6.2v5.2h-6.2zM271.7 394.9h6.2v5.2h-6.2zM262.5 383.3h6.2v5.2h-6.2zM263.7 401.3h6.2v5.2h-6.2zM260.8 392.7h6.2v5.2h-6.2zM268.7 380.2h6.2v5.2h-6.2zM268.1 402.8h6.2v5.2h-6.2zM265.2 385.0h6.2v5.2h-6.2zM270.4 392.1h6.2v5.2h-6.2zM256.2 396.6h6.2v5.2h-6.2zM272.5 400.8h6.2v5.2h-6.2zM277.9 397.1h6.2v5.2h-6.2zM266.6 381.3h6.2v5.2h-6.2zM270.9 387.7h6.2v5.2h-6.2zM262.2 380.7h6.2v5.2h-6.2zM258.9 386.0h6.2v5.2h-6.2zM255.8 391.7h6.2v5.2h-6.2zM278.1 398.9h6.2v5.2h-6.2zM268.8 386.3h6.2v5.2h-6.2zM259.0 398.3h6.2v5.2h-6.2zM275.2 394.9h6.2v5.2h-6.2zM268.9 395.9h6.2v5.2h-6.2zM279.3 399.4h6.2v5.2h-6.2zM271.1 397.2h6.2v5.2h-6.2zM274.4 397.7h6.2v5.2h-6.2zM266.1 400.1h6.2v5.2h-6.2zM270.8 391.5h6.2v5.2h-6.2zM269.7 397.8h6.2v5.2h-6.2zM268.5 401.6h6.2v5.2h-6.2zM261.3 387.5h6.2v5.2h-6.2zM274.6 393.7h6.2v5.2h-6.2zM260.8 398.4h6.2v5.2h-6.2zM277.5 390.4h6.2v5.2h-6.2zM256.1 388.7h6.2v5.2h-6.2zM265.3 389.2h6.2v5.2h-6.2zM276.6 385.5h6.2v5.2h-6.2zM275.3 383.3h6.2v5.2h-6.2zM261.2 396.0h6.2v5.2h-6.2zM276.0 400.7h6.2v5.2h-6.2zM269.4 393.6h6.2v5.2h-6.2zM268.3 396.9h6.2v5.2h-6.2zM265.6 393.9h6.2v5.2h-6.2zM271.1 392.8h6.2v5.2h-6.2zM273.0 397.7h6.2v5.2h-6.2zM263.2 388.2h6.2v5.2h-6.2zM267.3 399.5h6.2v5.2h-6.2zM264.5 394.6h6.2v5.2h-6.2zM258.4 392.2h6.2v5.2h-6.2zM269.9 394.5h6.2v5.2h-6.2zM263.9 396.7h6.2v5.2h-6.2zM268.4 388.0h6.2v5.2h-6.2zM262.4 390.2h6.2v5.2h-6.2zM264.9 391.0h6.2v5.2h-6.2zM273.4 383.7h6.2v5.2h-6.2zM267.0 399.7h6.2v5.2h-6.2zM274.4 405.6h6.2v5.2h-6.2zM253.5 386.4h6.2v5.2h-6.2zM264.6 396.6h6.2v5.2h-6.2zM273.8 381.5h6.2v5.2h-6.2zM270.7 380.5h6.2v5.2h-6.2zM269.0 402.1h6.2v5.2h-6.2zM265.7 393.3h6.2v5.2h-6.2zM272.9 394.3h6.2v5.2h-6.2zM267.3 404.5h6.2v5.2h-6.2zM274.4 391.0h6.2v5.2h-6.2zM273.4 391.1h6.2v5.2h-6.2zM268.3 398.0h6.2v5.2h-6.2zM268.9 397.5h6.2v5.2h-6.2zM270.6 384.8h6.2v5.2h-6.2zM257.7 378.2h6.2v5.2h-6.2zM276.9 400.0h6.2v5.2h-6.2zM277.1 386.3h6.2v5.2h-6.2zM265.8 382.4h6.2v5.2h-6.2zM273.8 406.2h6.2v5.2h-6.2zM261.2 403.5h6.2v5.2h-6.2zM274.1 391.9h6.2v5.2h-6.2zM265.5 386.8h6.2v5.2h-6.2zM270.1 395.9h6.2v5.2h-6.2zM277.3 385.7h6.2v5.2h-6.2zM276.5 405.9h6.2v5.2h-6.2zM277.6 392.6h6.2v5.2h-6.2zM261.9 399.2h6.2v5.2h-6.2zM267.7 393.1h6.2v5.2h-6.2zM277.3 391.8h6.2v5.2h-6.2zM268.6 387.3h6.2v5.2h-6.2zM267.3 398.8h6.2v5.2h-6.2zM268.4 403.0h6.2v5.2h-6.2zM267.1 400.4h6.2v5.2h-6.2zM262.3 398.2h6.2v5.2h-6.2zM257.3 389.9h6.2v5.2h-6.2zM265.2 391.4h6.2v5.2h-6.2zM262.4 393.0h6.2v5.2h-6.2zM280.3 395.0h6.2v5.2h-6.2zM271.5 401.0h6.2v5.2h-6.2zM264.2 381.1h6.2v5.2h-6.2zM263.3 400.0h6.2v5.2h-6.2zM253.7 384.5h6.2v5.2h-6.2zM275.0 400.0h6.2v5.2h-6.2zM267.4 398.6h6.2v5.2h-6.2zM267.0 382.4h6.2v5.2h-6.2zM254.3 384.3h6.2v5.2h-6.2zM273.3 388.6h6.2v5.2h-6.2zM259.2 384.1h6.2v5.2h-6.2zM255.0 388.6h6.2v5.2h-6.2zM258.0 393.2h6.2v5.2h-6.2zM272.0 390.7h6.2v5.2h-6.2zM268.5 388.5h6.2v5.2h-6.2zM273.2 399.3h6.2v5.2h-6.2zM272.0 395.6h6.2v5.2h-6.2zM277.4 399.4h6.2v5.2h-6.2zM274.6 404.1h6.2v5.2h-6.2zM264.1 387.6h6.2v5.2h-6.2zM260.2 396.2h6.2v5.2h-6.2zM280.9 393.7h6.2v5.2h-6.2zM271.7 400.2h6.2v5.2h-6.2zM259.7 389.8h6.2v5.2h-6.2zM269.6 399.2h6.2v5.2h-6.2zM266.3 390.2h6.2v5.2h-6.2zM258.7 387.4h6.2v5.2h-6.2zM273.6 394.1h6.2v5.2h-6.2zM259.5 383.6h6.2v5.2h-6.2zM271.8 396.8h6.2v5.2h-6.2zM279.8 398.0h6.2v5.2h-6.2zM266.6 396.1h6.2v5.2h-6.2zM268.6 386.6h6.2v5.2h-6.2zM255.5 384.3h6.2v5.2h-6.2zM269.1 393.9h6.2v5.2h-6.2zM262.9 383.2h6.2v5.2h-6.2zM256.5 378.9h6.2v5.2h-6.2zM260.3 392.8h6.2v5.2h-6.2zM266.7 396.2h6.2v5.2h-6.2zM261.1 389.8h6.2v5.2h-6.2zM270.5 395.7h6.2v5.2h-6.2zM271.7 394.6h6.2v5.2h-6.2zM264.9 398.0h6.2v5.2h-6.2zM266.4 385.1h6.2v5.2h-6.2zM261.9 391.0h6.2v5.2h-6.2zM266.0 393.0h6.2v5.2h-6.2zM266.8 393.4h6.2v5.2h-6.2zM264.7 381.3h6.2v5.2h-6.2zM270.7 401.3h6.2v5.2h-6.2zM269.9 391.0h6.2v5.2h-6.2zM269.3 384.6h6.2v5.2h-6.2zM252.3 389.6h6.2v5.2h-6.2zM260.2 396.6h6.2v5.2h-6.2zM260.1 403.4h6.2v5.2h-6.2zM262.7 380.0h6.2v5.2h-6.2zM261.3 395.1h6.2v5.2h-6.2zM270.6 394.1h6.2v5.2h-6.2zM278.5 400.0h6.2v5.2h-6.2zM267.0 396.8h6.2v5.2h-6.2zM273.6 384.4h6.2v5.2h-6.2zM266.2 397.7h6.2v5.2h-6.2zM265.3 400.3h6.2v5.2h-6.2zM272.0 400.3h6.2v5.2h-6.2zM276.0 392.0h6.2v5.2h-6.2zM264.8 398.6h6.2v5.2h-6.2zM274.2 393.4h6.2v5.2h-6.2zM258.0 391.7h6.2v5.2h-6.2zM270.3 401.8h6.2v5.2h-6.2zM272.7 393.3h6.2v5.2h-6.2zM273.6 397.7h6.2v5.2h-6.2zM268.3 392.7h6.2v5.2h-6.2zM265.4 397.2h6.2v5.2h-6.2zM258.2 385.1h6.2v5.2h-6.2zM265.6 379.8h6.2v5.2h-6.2zM262.0 395.6h6.2v5.2h-6.2zM271.0 392.3h6.2v5.2h-6.2zM263.8 379.8h6.2v5.2h-6.2zM274.3 386.2h6.2v5.2h-6.2zM263.8 376.5h6.2v5.2h-6.2zM273.4 400.8h6.2v5.2h-6.2zM270.1 378.2h6.2v5.2h-6.2zM260.8 379.3h6.2v5.2h-6.2zM267.1 394.0h6.2v5.2h-6.2zM272.1 398.7h6.2v5.2h-6.2zM256.3 385.7h6.2v5.2h-6.2zM257.8 381.4h6.2v5.2h-6.2zM266.1 391.8h6.2v5.2h-6.2zM269.2 379.5h6.2v5.2h-6.2zM257.3 389.9h6.2v5.2h-6.2zM264.9 389.0h6.2v5.2h-6.2zM265.6 385.5h6.2v5.2h-6.2zM272.3 395.9h6.2v5.2h-6.2zM265.5 386.2h6.2v5.2h-6.2zM259.3 390.7h6.2v5.2h-6.2zM255.4 391.3h6.2v5.2h-6.2zM266.7 380.7h6.2v5.2h-6.2zM264.5 388.9h6.2v5.2h-6.2zM270.7 397.7h6.2v5.2h-6.2zM265.7 384.8h6.2v5.2h-6.2zM265.6 391.1h6.2v5.2h-6.2zM272.5 395.4h6.2v5.2h-6.2zM260.1 379.6h6.2v5.2h-6.2zM263.3 385.2h6.2v5.2h-6.2zM258.2 389.3h6.2v5.2h-6.2zM263.1 392.0h6.2v5.2h-6.2zM270.3 389.3h6.2v5.2h-6.2zM275.2 394.6h6.2v5.2h-6.2zM261.2 392.8h6.2v5.2h-6.2zM270.2 403.0h6.2v5.2h-6.2zM273.3 400.9h6.2v5.2h-6.2zM270.5 391.4h6.2v5.2h-6.2zM269.7 383.7h6.2v5.2h-6.2zM274.9 385.2h6.2v5.2h-6.2zM265.0 391.7h6.2v5.2h-6.2zM275.6 393.9h6.2v5.2h-6.2zM260.8 392.8h6.2v5.2h-6.2zM271.7 398.7h6.2v5.2h-6.2zM279.4 394.6h6.2v5.2h-6.2zM268.4 388.7h6.2v5.2h-6.2zM276.9 388.2h6.2v5.2h-6.2zM271.4 388.9h6.2v5.2h-6.2zM262.0 396.8h6.2v5.2h-6.2zM276.8 393.8h6.2v5.2h-6.2zM179.9 162.9h6.2v5.2h-6.2zM182.4 161.3h6.2v5.2h-6.2zM188.7 163.9h6.2v5.2h-6.2zM180.5 167.6h6.2v5.2h-6.2zM182.6 162.8h6.2v5.2h-6.2zM180.0 160.2h6.2v5.2h-6.2zM175.6 166.0h6.2v5.2h-6.2zM188.1 156.4h6.2v5.2h-6.2zM176.6 155.1h6.2v5.2h-6.2zM209.1 163.9h6.2v5.2h-6.2zM204.2 164.4h6.2v5.2h-6.2zM203.9 161.9h6.2v5.2h-6.2zM204.5 160.8h6.2v5.2h-6.2zM204.1 166.4h6.2v5.2h-6.2zM206.3 164.7h6.2v5.2h-6.2zM200.8 165.9h6.2v5.2h-6.2zM202.5 170.4h6.2v5.2h-6.2zM190.7 175.0h6.2v5.2h-6.2zM185.7 173.2h6.2v5.2h-6.2zM183.9 174.3h6.2v5.2h-6.2zM188.8 177.0h6.2v5.2h-6.2zM189.9 182.1h6.2v5.2h-6.2zM184.8 175.4h6.2v5.2h-6.2zM198.8 169.4h6.2v5.2h-6.2zM185.5 175.9h6.2v5.2h-6.2zM263.8 121.3h6.2v5.2h-6.2zM262.2 121.2h6.2v5.2h-6.2zM263.4 122.5h6.2v5.2h-6.2zM255.6 117.2h6.2v5.2h-6.2zM263.2 116.7h6.2v5.2h-6.2zM259.0 122.0h6.2v5.2h-6.2zM260.6 122.0h6.2v5.2h-6.2zM266.2 121.0h6.2v5.2h-6.2zM265.2 119.7h6.2v5.2h-6.2zM260.9 155.2h6.2v5.2h-6.2zM268.3 153.6h6.2v5.2h-6.2zM266.1 157.7h6.2v5.2h-6.2zM263.0 157.3h6.2v5.2h-6.2zM274.0 153.5h6.2v5.2h-6.2zM267.1 154.8h6.2v5.2h-6.2zM272.7 156.3h6.2v5.2h-6.2zM270.1 153.1h6.2v5.2h-6.2zM266.4 155.3h6.2v5.2h-6.2zM227.5 166.6h6.2v5.2h-6.2zM238.2 156.4h6.2v5.2h-6.2zM237.6 161.6h6.2v5.2h-6.2zM236.4 163.2h6.2v5.2h-6.2zM228.6 161.3h6.2v5.2h-6.2zM240.6 160.2h6.2v5.2h-6.2zM230.5 157.6h6.2v5.2h-6.2zM212.5 199.7h6.2v5.2h-6.2zM221.3 199.9h6.2v5.2h-6.2zM216.9 204.3h6.2v5.2h-6.2zM214.6 197.3h6.2v5.2h-6.2zM217.8 200.2h6.2v5.2h-6.2zM133.7 136.9h6.2v5.2h-6.2zM138.3 140.9h6.2v5.2h-6.2zM132.7 139.6h6.2v5.2h-6.2zM135.4 141.5h6.2v5.2h-6.2zM136.9 140.0h6.2v5.2h-6.2zM122.8 130.9h6.2v5.2h-6.2zM128.1 127.5h6.2v5.2h-6.2zM126.4 126.6h6.2v5.2h-6.2zM124.1 130.2h6.2v5.2h-6.2zM259.5 135.9h6.2v5.2h-6.2zM251.5 138.2h6.2v5.2h-6.2zM244.4 137.5h6.2v5.2h-6.2zM248.5 138.9h6.2v5.2h-6.2zM246.3 129.5h6.2v5.2h-6.2zM252.1 138.4h6.2v5.2h-6.2zM218.6 151.7h6.2v5.2h-6.2zM220.3 144.5h6.2v5.2h-6.2zM224.8 139.9h6.2v5.2h-6.2zM217.8 147.3h6.2v5.2h-6.2zM227.0 146.6h6.2v5.2h-6.2zM223.8 144.3h6.2v5.2h-6.2zM168.7 155.4h6.2v5.2h-6.2zM162.8 158.8h6.2v5.2h-6.2zM163.0 147.5h6.2v5.2h-6.2zM167.9 152.3h6.2v5.2h-6.2zM159.5 137.3h6.2v5.2h-6.2zM170.5 151.2h6.2v5.2h-6.2zM259.5 384.2h6.2v5.2h-6.2zM255.7 369.9h6.2v5.2h-6.2zM262.3 370.6h6.2v5.2h-6.2zM268.9 361.0h6.2v5.2h-6.2zM250.5 347.7h6.2v5.2h-6.2zM261.2 366.2h6.2v5.2h-6.2zM262.2 381.3h6.2v5.2h-6.2zM253.8 366.9h6.2v5.2h-6.2zM249.4 363.4h6.2v5.2h-6.2zM248.2 372.2h6.2v5.2h-6.2zM254.2 368.8h6.2v5.2h-6.2zM252.3 373.9h6.2v5.2h-6.2zM258.3 367.5h6.2v5.2h-6.2zM259.9 367.5h6.2v5.2h-6.2zM243.5 377.1h6.2v5.2h-6.2zM258.1 362.7h6.2v5.2h-6.2z" fill="#000"/>
<path d="M87.0 83.1l3.1 5.4h-6.2zM107.0 83.1l3.1 5.4h-6.2zM194.4 115.5l3.1 5.4h-6.2zM250.0 98.7l3.1 5.4h-6.2zM258.0 116.7l3.1 5.4h-6.2zM230.6 320.7l3.1 5.4h-6.2zM290.0 385.5l3.1 5.4h-6.2zM294.0 390.1l3.1 5.4h-6.2zM290.0 405.5l3.1 5.4h-6.2zM296.0 408.7l3.1 5.4h-6.2zM299.0 409.1l3.1 5.4h-6.2zM455.0 258.7l3.1 5.4h-6.2zM475.6 259.5l3.1 5.4h-6.2zM489.6 276.1l3.1 5.4h-6.2zM489.6 292.7l3.1 5.4h-6.2zM505.0 303.7l3.1 5.4h-6.2zM515.0 311.1l3.1 5.4h-6.2zM503.0 317.1l3.1 5.4h-6.2zM507.0 319.5l3.1 5.4h-6.2zM528.0 323.1l3.1 5.4h-6.2zM511.4 337.7l3.1 5.4h-6.2zM525.4 344.7l3.1 5.4h-6.2zM147.8 553.6l3.1 5.4h-6.2zM251.7 555.3l3.1 5.4h-6.2zM205.3 568.1l3.1 5.4h-6.2zM244.0 571.6l3.1 5.4h-6.2zM548.3 100.6l3.1 5.4h-6.2zM463.8 488.7l3.1 5.4h-6.2zM455.2 505.1l3.1 5.4h-6.2zM464.4 516.5l3.1 5.4h-6.2zM475.0 523.1l3.1 5.4h-6.2zM497.5 565.4l3.1 5.4h-6.2zM590.3 544.4l3.1 5.4h-6.2zM562.0 561.1l3.1 5.4h-6.2z" fill="#000"/>
<path d="M471.9 546.9h6.2v5.2h-6.2zM631.0 573.9h6.2v5.2h-6.2z" fill="#f00000" stroke="#700" stroke-width="0.5"/>
<g stroke="#111" stroke-width="0.25">
<text x="3.0" y="9.4" font-size="13.7" text-anchor="start" textLength="77.0" lengthAdjust="spacingAndGlyphs" >PROCHECK</text>
<text x="203.0" y="39.0" font-size="39.0" text-anchor="start" textLength="344.0" lengthAdjust="spacingAndGlyphs" >Ramachandran Plot</text>
<text x="325.0" y="74.5" font-size="35.5" text-anchor="start" textLength="78.5" lengthAdjust="spacingAndGlyphs" >saves</text>
<text x="38.7" y="90.7" font-size="20.0" text-anchor="start" textLength="30.5" lengthAdjust="spacingAndGlyphs" >180</text>
<text x="38.7" y="153.7" font-size="20.0" text-anchor="start" textLength="30.5" lengthAdjust="spacingAndGlyphs" >135</text>
<text x="45.6" y="216.7" font-size="20.0" text-anchor="start" textLength="22.0" lengthAdjust="spacingAndGlyphs" >90</text>
<text x="45.6" y="279.7" font-size="20.0" text-anchor="start" textLength="22.0" lengthAdjust="spacingAndGlyphs" >45</text>
<text x="55.4" y="342.7" font-size="20.0" text-anchor="start" textLength="12.8" lengthAdjust="spacingAndGlyphs" >0</text>
<text x="39.2" y="405.7" font-size="20.0" text-anchor="start" textLength="28.3" lengthAdjust="spacingAndGlyphs" >-45</text>
<text x="38.9" y="468.7" font-size="20.0" text-anchor="start" textLength="28.6" lengthAdjust="spacingAndGlyphs" >-90</text>
<text x="30.5" y="531.7" font-size="20.0" text-anchor="start" textLength="38.9" lengthAdjust="spacingAndGlyphs" >-135</text>
<text x="80.0" y="609.7" font-size="21.0" text-anchor="middle" >-180</text>
<text x="153.4" y="609.7" font-size="21.0" text-anchor="middle" >-135</text>
<text x="226.8" y="609.7" font-size="21.0" text-anchor="middle" >-90</text>
<text x="300.1" y="609.7" font-size="21.0" text-anchor="middle" >-45</text>
<text x="373.5" y="609.7" font-size="21.0" text-anchor="middle" >0</text>
<text x="446.9" y="609.7" font-size="21.0" text-anchor="middle" >45</text>
<text x="520.2" y="609.7" font-size="21.0" text-anchor="middle" >90</text>
<text x="593.6" y="609.7" font-size="21.0" text-anchor="middle" >135</text>
<text x="667.0" y="609.7" font-size="21.0" text-anchor="middle" >180</text>
<text transform="translate(17.0,336) scale(1.09,1) rotate(-90)" font-size="19.3" text-anchor="middle" textLength="98" lengthAdjust="spacingAndGlyphs">Psi (degrees)</text>
<text x="280.5" y="638.9" font-size="23.8" text-anchor="start" textLength="138.0" lengthAdjust="spacingAndGlyphs" >Plot statistics</text>
<text x="19.0" y="676.7" font-size="18.6" text-anchor="start" textLength="342.7" lengthAdjust="spacingAndGlyphs" xml:space="preserve">Residues in most favoured regions  [A,B,L]</text>
<text x="555.3" y="678.1" font-size="18.6" text-anchor="start" textLength="29.8" lengthAdjust="spacingAndGlyphs" >884</text>
<text x="627.0" y="678.1" font-size="18.6" text-anchor="start" textLength="50.0" lengthAdjust="spacingAndGlyphs" >91.7%</text>
<text x="19.0" y="697.0" font-size="18.6" text-anchor="start" textLength="374.7" lengthAdjust="spacingAndGlyphs" xml:space="preserve">Residues in additional allowed regions  [a,b,l,p]</text>
<text x="563.6" y="698.4" font-size="18.6" text-anchor="start" textLength="19.4" lengthAdjust="spacingAndGlyphs" >76</text>
<text x="634.8" y="698.4" font-size="18.6" text-anchor="start" textLength="40.3" lengthAdjust="spacingAndGlyphs" >7.9%</text>
<text x="19.0" y="717.3" font-size="18.6" text-anchor="start" textLength="423.2" lengthAdjust="spacingAndGlyphs" xml:space="preserve">Residues in generously allowed regions  [~a,~b,~l,~p]</text>
<text x="570.0" y="718.7" font-size="18.6" text-anchor="start" textLength="9.7" lengthAdjust="spacingAndGlyphs" >4</text>
<text x="634.3" y="718.7" font-size="18.6" text-anchor="start" textLength="40.8" lengthAdjust="spacingAndGlyphs" >0.4%</text>
<text x="19.0" y="737.6" font-size="18.6" text-anchor="start" textLength="242.7" lengthAdjust="spacingAndGlyphs" xml:space="preserve">Residues in disallowed regions</text>
<text x="570.0" y="739.0" font-size="18.6" text-anchor="start" textLength="9.7" lengthAdjust="spacingAndGlyphs" >0</text>
<text x="634.3" y="739.0" font-size="18.6" text-anchor="start" textLength="40.8" lengthAdjust="spacingAndGlyphs" >0.0%</text>
<text x="554.7" y="759.9" font-size="18.6" text-anchor="start" textLength="25.8" lengthAdjust="spacingAndGlyphs" >----</text>
<text x="631.0" y="759.9" font-size="18.6" text-anchor="start" textLength="37.8" lengthAdjust="spacingAndGlyphs" >------</text>
<text x="19.0" y="779.1" font-size="18.6" text-anchor="start" textLength="381.7" lengthAdjust="spacingAndGlyphs" xml:space="preserve">Number of non-glycine and non-proline residues</text>
<text x="555.3" y="780.5" font-size="18.6" text-anchor="start" textLength="29.8" lengthAdjust="spacingAndGlyphs" >964</text>
<text x="621.3" y="780.5" font-size="18.6" text-anchor="start" textLength="58.5" lengthAdjust="spacingAndGlyphs" >100.0%</text>
<text x="19.0" y="809.1" font-size="18.6" text-anchor="start" textLength="344.2" lengthAdjust="spacingAndGlyphs" xml:space="preserve">Number of end-residues (excl. Gly and Pro)</text>
<text x="564.0" y="810.5" font-size="18.6" text-anchor="start" textLength="19.0" lengthAdjust="spacingAndGlyphs" >10</text>
<text x="19.0" y="839.9" font-size="18.6" text-anchor="start" textLength="381.0" lengthAdjust="spacingAndGlyphs" xml:space="preserve">Number of glycine residues (shown as triangles)</text>
<text x="557.0" y="841.3" font-size="18.6" text-anchor="start" textLength="28.3" lengthAdjust="spacingAndGlyphs" >106</text>
<text x="19.0" y="860.5" font-size="18.6" text-anchor="start" textLength="214.2" lengthAdjust="spacingAndGlyphs" xml:space="preserve">Number of proline residues</text>
<text x="563.3" y="861.9" font-size="18.6" text-anchor="start" textLength="19.6" lengthAdjust="spacingAndGlyphs" >80</text>
<text x="554.7" y="882.9" font-size="18.6" text-anchor="start" textLength="25.8" lengthAdjust="spacingAndGlyphs" >----</text>
<text x="19.0" y="900.7" font-size="18.6" text-anchor="start" textLength="195.7" lengthAdjust="spacingAndGlyphs" xml:space="preserve">Total number of residues</text>
<text x="550.0" y="902.1" font-size="18.6" text-anchor="start" textLength="37.0" lengthAdjust="spacingAndGlyphs" >1160</text>
<text x="80.3" y="962.8" font-size="16.5" text-anchor="start" textLength="537.0" lengthAdjust="spacingAndGlyphs" >Based on an analysis of 118 structures of resolution of at least 2.0 Angstroms</text>
<text x="86.0" y="983.6" font-size="16.5" text-anchor="start" textLength="522.5" lengthAdjust="spacingAndGlyphs" >and R-factor no greater than 20%, a good quality model would be expected</text>
<text x="184.5" y="1003.5" font-size="16.5" text-anchor="start" textLength="328.0" lengthAdjust="spacingAndGlyphs" >to have over 90% in the most favoured regions.</text>
<text x="107.5" y="102.5" font-size="16.0" text-anchor="start" >B</text>
<text x="91.0" y="161.3" font-size="19.5" text-anchor="start" >b</text>
<text x="108.0" y="300.8" font-size="20.5" text-anchor="start" >a</text>
<text x="342.0" y="159.0" font-size="13.0" text-anchor="start" ><tspan dy="2.2">~</tspan><tspan dy="-2.2">b</tspan></text>
<text x="342.0" y="361.3" font-size="13.0" text-anchor="start" ><tspan dy="2.2">~</tspan><tspan dy="-2.2">a</tspan></text>
<text x="441.0" y="186.4" font-size="13.0" text-anchor="start" ><tspan dy="2.2">~</tspan><tspan dy="-2.2">l</tspan></text>
<text x="428.6" y="228.5" font-size="13.0" text-anchor="start" >l</text>
<text x="586.5" y="101.7" font-size="13.0" text-anchor="start" ><tspan dy="2.2">~</tspan><tspan dy="-2.2">b</tspan></text>
<text x="647.0" y="116.3" font-size="13.8" text-anchor="start" >b</text>
<text x="81.0" y="523.0" font-size="13.0" text-anchor="start" ><tspan dy="2.2">~</tspan><tspan dy="-2.2">b</tspan></text>
<text x="108.8" y="551.0" font-size="13.8" text-anchor="start" >b</text>
<text x="423.8" y="523.5" font-size="13.0" text-anchor="start" ><tspan dy="2.2">~</tspan><tspan dy="-2.2">p</tspan></text>
<text x="459.5" y="550.5" font-size="13.8" text-anchor="start" >p</text>
<text x="619.0" y="563.6" font-size="13.0" text-anchor="start" ><tspan dy="2.2">~</tspan><tspan dy="-2.2">b</tspan></text>
<text x="435.0" y="545.0" font-size="12.5" text-anchor="start" textLength="80.0" lengthAdjust="spacingAndGlyphs" fill="#f00000" stroke="#f00000" stroke-width="0.2">ARG 324 (A)</text>
<text x="435.0" y="545.0" font-size="12.5" text-anchor="start" textLength="80.0" lengthAdjust="spacingAndGlyphs" fill="#f00000" stroke="#f00000" stroke-width="0.2">ARG 324 (B)</text>
<text x="595.2" y="572.0" font-size="12.5" text-anchor="start" textLength="78.0" lengthAdjust="spacingAndGlyphs" fill="#f00000" stroke="#f00000" stroke-width="0.2">ALA 390 (A)</text>
<text x="595.2" y="572.0" font-size="12.5" text-anchor="start" textLength="78.0" lengthAdjust="spacingAndGlyphs" fill="#f00000" stroke="#f00000" stroke-width="0.2">ALA 390 (B)</text>
</g>
</svg>
</body></html>
